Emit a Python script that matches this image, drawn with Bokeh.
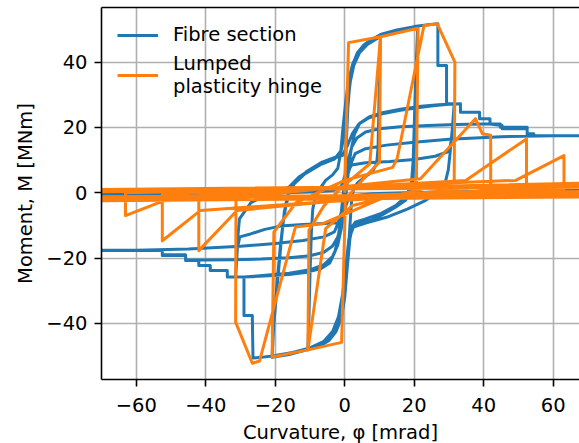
from bokeh.plotting import figure
from bokeh.models import Range1d, FixedTicker, LinearAxis, Legend, LegendItem, ColumnDataSource
from bokeh.embed import file_html
from bokeh.resources import INLINE

# ---------------- data ----------------
# Fibre section model: moment-curvature path, split into half-cycle branches
fib_phi_1 = [0, 0.4, 0.9, 1.5, 2.4, 3.6, 5.5, 7.8, 10.3]
fib_M_1 = [0, 14, 26, 34, 39.5, 42.8, 45.3, 47, 48.3]

fib_phi_2 = [10.0, 9.8, 9.6, 9.2, 8.0, 6.0, 3.8, 2.6, 2.0, 1.5, 0.8, 0.0, -1.0, -2.5, -4.5, -7.0, -10.6]
fib_M_2 = [38, 25, 14, 9, 6.5, 5, 3.2, 1.5, -2, -10, -22, -32, -38.5, -42.5, -45.2, -46.8, -48.1]

fib_phi_3 = [-10.3, -10.0, -9.6, -9.2, -8.6, -7.0, -5.5, -3.5, -2.0, -1.2, -0.5, 0.3, 1.2, 2.3, 3.8, 6.0, 10.3, 15.0, 21.0]
fib_M_3 = [-38, -25, -12, -5, -2, 1.5, 3.8, 5.5, 7.5, 12, 20, 28, 35, 39.5, 43, 45.7, 48.4, 49.7, 50.7]

fib_phi_4 = [20.7, 20.3, 20.0, 19.6, 19.0, 17.5, 14.6, 11.0, 7.9, 4.5, 2.3, 1.5, 0.8, 0.0, -1.2, -2.8, -5.0, -8.0, -12.0, -16.0, -20.9]
fib_M_4 = [40, 25, 12, 4, 0.5, -2.3, -4.4, -6.6, -8.3, -9.3, -10, -14, -22, -31, -38, -42.5, -45.5, -47.2, -48.4, -49.5, -50.4]

fib_phi_5 = [-20.5, -19.5, -18.5, -17.6, -17.0, -16.1, -14.5, -11.0, -6.5, -2.5, -1.0, 0.0, 0.8, 1.6, 2.6, 4.2, 6.5, 10.3, 15.0, 21.0]
fib_M_5 = [-40, -28, -16, -8, -4.4, -0.5, 2.8, 6.5, 9.4, 11, 13, 19, 27, 34, 39, 42.8, 45.4, 47.9, 49.4, 50.5]

fib_phi_6 = [20.6, 20.1, 19.7, 19.2, 17.8, 14.8, 10.5, 6.0, 3.0, 1.8, 1.0, 0.2, -0.9, -2.4, -4.5, -7.5, -12.0, -16.0, -20.9]
fib_M_6 = [40, 24, 10, 3, -1, -3.8, -6.3, -8, -9, -11, -19, -28, -36, -41.5, -44.8, -46.8, -48.2, -49.2, -50.1]

fib_phi_7 = [-20.4, -19.3, -18.3, -17.4, -16.5, -14.8, -11.5, -7.0, -3.0, -1.3, -0.3, 0.6, 1.5, 2.6, 4.3, 7.0,
             10.3, 15.0, 20.0, 24.0, 26.8, 26.8, 29.3, 29.3, 31.5]
fib_M_7 = [-40, -27, -15, -6, -1, 2.5, 5.8, 8.6, 10.3, 12, 18, 27, 34.5, 39.5, 43.5, 46.5,
           48.5, 49.9, 50.9, 51.5, 51.8, 39, 39, 27.3, 27.3]

fib_phi_8 = [31.0, 30.3, 29.8, 29.0, 27.0, 23.0, 18.0, 12.0, 6.0, 2.5, 1.2, 0.4, -0.6, -1.8, -3.5, -6.0,
             -10.0, -15.0, -20.0, -24.0, -26.4, -26.6, -29.0, -29.0, -31.4]
fib_M_8 = [20, 12, 7, 3.5, 0.5, -2.5, -5, -7.5, -9.3, -10.5, -14, -22, -31, -38, -42.5, -45.5,
           -47.5, -48.9, -49.8, -50.4, -50.6, -37.6, -37.6, -25.8, -25.8]

fib_phi_9 = [-30.9, -30.2, -27.1, -23.0, -18.5, -12.0, -6.0, -2.0, -0.6, 0.3, 1.0, 1.8, 2.8, 4.3, 7.0, 10.8,
             16.0, 22.0, 27.0, 31.5]
fib_M_9 = [-17, -13.5, -12.6, -11.2, -10.2, -9.7, -9.4, -9.2, -7, -1, 6, 13, 18, 21.3, 23.2, 24.5,
           25.6, 26.5, 27, 27.2]

fib_phi_10 = [31.0, 30.3, 29.5, 26.0, 20.0, 13.0, 6.0, 2.0, 0.6, -0.3, -1.0, -1.8, -2.8, -4.3, -7.0, -10.8,
              -16.0, -22.0, -27.0, -31.4]
fib_M_10 = [18, 14, 12.5, 11.2, 10.2, 9.6, 9.2, 8.5, 6, 1, -6, -13, -18, -21.5, -23.3, -24.3,
            -25, -25.4, -25.7, -25.8]

fib_phi_11 = [-30.9, -30.3, -27.0, -22.0, -16.1, -13.2, -6.5, -2.5, -0.7, 0.8, 2.2, 4.1, 7.0, 10.8, 16.0,
              22.0, 26.1, 30.0, 33.3, 33.3, 38.8, 38.8, 41.8, 41.8, 45.3, 45.3, 52.5, 52.5, 54.4, 54.4, 80.0]
fib_M_11 = [-15, -8, -3, -0.5, 1.7, 4.8, 9.4, 10.8, 11.4, 14.5, 18.1, 21.1, 23.0, 24.2, 25.3,
            26.2, 26.7, 27.1, 27.3, 24.7, 24.7, 22.7, 22.7, 21.1, 20.6, 19.6, 19.6, 18.1, 18.1, 17.5, 17.5]

fib_phi_12 = [79.5, 79.0, 60.0, 40.0, 20.0, 8.0, 3.0, 1.0, 0.0, -1.0, -2.0, -3.5, -6.0, -10.0, -16.0,
              -22.0, -27.0, -29.0, -33.8, -33.8, -38.7, -38.7, -42.0, -42.0, -45.8, -45.8, -52.5, -52.5, -80.0]
fib_M_12 = [8, 0.8, 0.6, 0.4, 0.1, -0.3, -0.8, -2.0, -5, -11, -16, -19.5, -22, -23.6, -24.6,
            -25.2, -25.6, -25.8, -25.8, -23.8, -23.8, -22.3, -22.3, -20.7, -20.7, -19.2, -19.2, -17.7, -17.7]

fib_phi_13 = [-79.5, -79.0, -60.0, -40.0, -20.0, -8.0, -3.0, -1.0, 0.0, 1.0, 2.0, 3.5, 6.0, 10.0, 16.0,
              24.0, 32.0, 40.0, 44.8, 44.8, 52.5, 52.5, 80.0]
fib_M_13 = [-8, -0.8, -0.6, -0.4, -0.1, 0.3, 0.8, 2.0, 5, 10, 14, 16.8, 18.6, 19.6, 20.2,
            20.6, 20.9, 21.1, 21.1, 20.1, 20.1, 17.5, 17.5]

fib_phi_14 = [79.5, 79.0, 60.0, 40.0, 20.0, 8.0, 3.0, 1.0, 0.0, -1.0, -2.0, -3.5, -6.0, -10.0, -16.0,
              -24.0, -32.0, -40.0, -45.8, -45.8, -52.5, -52.5, -80.0]
fib_M_14 = [8, 0.6, 0.5, 0.3, 0.0, -0.4, -0.9, -2.0, -4.5, -9.5, -13.5, -16.3, -18.2, -19.3, -19.9,
            -20.3, -20.5, -20.6, -20.6, -19.0, -19.0, -17.6, -17.6]

fib_phi_15 = [-79.5, -79.0, -60.0, -40.0, -20.0, -8.0, -3.0, -1.0, 0.0, 1.0, 2.0, 3.0, 6.0, 12.0, 20.0,
              30.0, 45.0, 60.0, 80.0]
fib_M_15 = [-8, -0.5, -0.4, -0.2, 0.1, 0.5, 1.0, 2.0, 3.5, 6.0, 9.5, 12.0, 13.5, 14.6, 15.5,
            16.4, 17.2, 17.5, 17.5]

fib_phi_16 = [79.5, 79.0, 60.0, 40.0, 20.0, 8.0, 3.0, 1.0, 0.0, -1.0, -2.0, -3.0, -6.0, -12.0, -20.0,
              -30.0, -45.0, -60.0, -80.0]
fib_M_16 = [8, 0.4, 0.3, 0.1, -0.2, -0.6, -1.1, -2.0, -3.5, -6.0, -9.5, -12.0, -13.5, -14.6, -15.5,
            -16.4, -17.2, -17.6, -17.6]

# Lumped plasticity hinge model: piecewise-linear moment-curvature path
hinge_phi = [0, 1.1, 10.3, 10.0, 6.0, 0.2, -0.9, -10.6, -10.3, -6.0, -1.0, 7.2, 10.3, 21.1, 20.6, 2.2,
             -5.5, -10.6, -20.9, -20.4, -14.0, 0.0, 13.8, 15.1, 22.8, 26.6, 31.7, 31.5, 10.0, -6.5,
             -14.2, -24.5, -26.6, -31.4, -31.3, 21.8, 37.6, 39.6, 42.0, 42.0, -31.0, -42.0, -42.0,
             34.8, 52.3, 52.3, -41.5, -52.5, -52.5, 49.2, 63.1, 63.1, -52.0, -63.1, -63.1, 70.0,
             73.5, 73.5, -70.5, -73.5, -73.5, 72.0, 84.0, 84.0, -72.0, -84.0, -84.0, 82.0, 94.5,
             94.5, -82.0, -94.5, -94.5, 90.0, 105.0, 105.0, -90.0, -105.0]
hinge_M = [0, 46.0, 47.8, 9.4, 5.0, -2.0, -45.8, -48.1, -11.5, -4.0, 1.5, 8.9, 47.8, 50.4, 0.7, -3.9,
           -11.0, -48.1, -50.3, -12.0, -3.0, 3.8, 7.8, 10.5, 51.2, 51.8, 40.0, 3.5, -2.0, -9.5,
           -10.5, -51.5, -52.2, -39.6, -1.5, 4.3, 22.7, 18.1, 17.6, 2.0, -5.4, -17.7, -1.0,
           3.8, 16.5, 1.5, -5.4, -14.7, -0.5, 3.8, 11.4, 1.0, -2.4, -7.0, 0.0, 3.0,
           7.0, 0.5, -2.2, -4.0, 0.3, 2.2, 4.0, -0.5, -1.2, -2.5, 0.6, 1.8, 3.5,
           0.2, -1.8, -3.0, 0.8, 2.6, 4.5, -1.0, -2.6, -3.5]

x_tick_values = [-60, -40, -20, 0, 20, 40, 60]
x_tick_labels = ["\u221260", "\u221240", "\u221220", "0", "20", "40", "60"]
y_tick_values = [-40, -20, 0, 20, 40]
y_tick_labels = ["\u221240", "\u221220", "0", "20", "40"]

x_label = "Curvature, \u03c6 [mrad]"
y_label = "Moment, M [MNm]"
series_labels = ["Fibre section", "Lumped\nplasticity hinge"]
series_colors = ["#1f77b4", "#ff7f0e"]

fib_phi_branches = [fib_phi_1, fib_phi_2, fib_phi_3, fib_phi_4, fib_phi_5, fib_phi_6, fib_phi_7, fib_phi_8,
                    fib_phi_9, fib_phi_10, fib_phi_11, fib_phi_12, fib_phi_13, fib_phi_14, fib_phi_15,
                    fib_phi_16]
fib_M_branches = [fib_M_1, fib_M_2, fib_M_3, fib_M_4, fib_M_5, fib_M_6, fib_M_7, fib_M_8,
                  fib_M_9, fib_M_10, fib_M_11, fib_M_12, fib_M_13, fib_M_14, fib_M_15,
                  fib_M_16]
fibre_phi = [v for b in fib_phi_branches for v in b]
fibre_M = [v for b in fib_M_branches for v in b]

# ---------------- figure ----------------
FONT = "DejaVu Sans"
FS = "19.5px"

p = figure(frame_width=478, frame_height=372,
           x_range=Range1d(-70, 67.56), y_range=Range1d(-57.18, 56.75),
           output_backend="svg", toolbar_location=None,
           min_border_left=101, min_border_right=0, min_border_top=7, min_border_bottom=0,
           outline_line_color=None, background_fill_color="white", border_fill_color="white")

for ax in (p.xaxis[0], p.yaxis[0]):
    ax.axis_line_color = "black"
    ax.axis_line_width = 1.6
    ax.major_tick_line_color = "black"
    ax.major_tick_line_width = 1.6
    ax.major_tick_out = 7
    ax.major_tick_in = 0
    ax.minor_tick_line_color = None
    ax.major_label_text_font = FONT
    ax.major_label_text_font_size = FS
    ax.major_label_text_color = "black"
    ax.axis_label_text_font = FONT
    ax.axis_label_text_font_size = FS
    ax.axis_label_text_font_style = "normal"
    ax.axis_label_text_color = "black"

p.xaxis[0].ticker = FixedTicker(ticks=x_tick_values)
p.xaxis[0].major_label_overrides = dict(zip(x_tick_values, x_tick_labels))
p.xaxis[0].axis_label = x_label
p.xaxis[0].major_label_standoff = 11
p.xaxis[0].axis_label_standoff = 6

p.yaxis[0].ticker = FixedTicker(ticks=y_tick_values)
p.yaxis[0].major_label_overrides = dict(zip(y_tick_values, y_tick_labels))
p.yaxis[0].axis_label = y_label
p.yaxis[0].major_label_standoff = 7
p.yaxis[0].axis_label_standoff = 6

top_axis = LinearAxis(ticker=FixedTicker(ticks=[]), axis_line_color="black", axis_line_width=1.6,
                      major_tick_line_color=None, minor_tick_line_color=None,
                      major_label_text_font_size="0px", major_label_standoff=0)
p.add_layout(top_axis, "above")

p.xgrid.ticker = FixedTicker(ticks=x_tick_values)
p.ygrid.ticker = FixedTicker(ticks=y_tick_values)
for g in (p.xgrid[0], p.ygrid[0]):
    g.grid_line_color = "#b0b0b0"
    g.grid_line_width = 1.6
    g.grid_line_alpha = 1.0

src_f = ColumnDataSource(dict(x=fibre_phi, y=fibre_M))
src_h = ColumnDataSource(dict(x=hinge_phi, y=hinge_M))
r1 = p.line("x", "y", source=src_f, line_color=series_colors[0], line_width=3, line_join="round")
r2 = p.line("x", "y", source=src_h, line_color=series_colors[1], line_width=3, line_join="round")

legend = Legend(items=[LegendItem(label=series_labels[0], renderers=[r1]),
                       LegendItem(label=series_labels[1], renderers=[r2])],
                location="top_left", background_fill_alpha=0, border_line_color=None,
                label_text_font=FONT, label_text_font_size=FS, label_text_color="black",
                glyph_width=41, glyph_height=20, label_standoff=15, padding=6, margin=16,
                spacing=6)
p.add_layout(legend)

open("out.html", "w").write(file_html(p, INLINE))
